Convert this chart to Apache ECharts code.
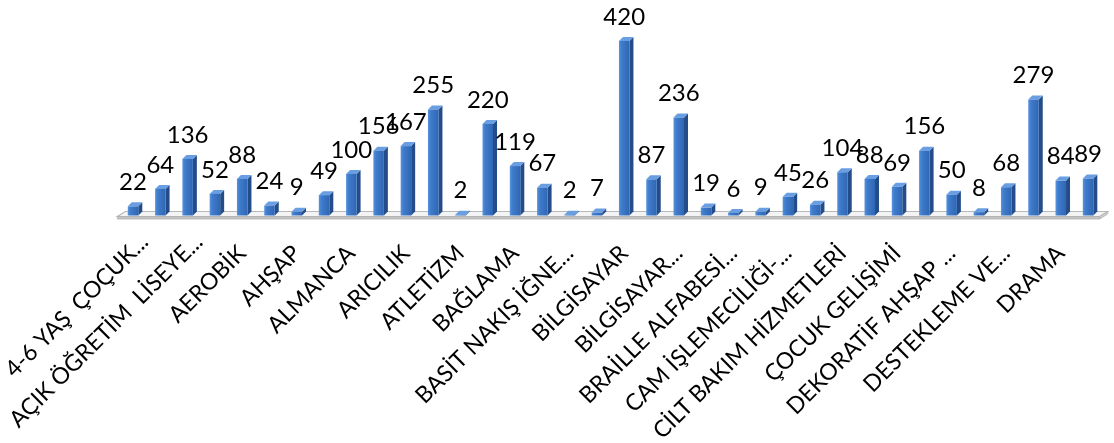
<!DOCTYPE html>
<html><head><meta charset="utf-8">
<script src="https://cdn.jsdelivr.net/npm/echarts@6/dist/echarts.min.js"></script>
<style>html,body{margin:0;padding:0;background:#fff}#c{width:1114px;height:443px}</style>
</head><body><div id="c"></div>
<script>
// Categories (only every other label is shown in the reference; unlabeled ones left blank)
const categories = [
  "4-6 YAŞ  ÇOÇUK...", "",
  "AÇIK ÖĞRETİM  LİSEYE...", "",
  "AEROBİK", "",
  "AHŞAP", "",
  "ALMANCA", "",
  "ARICILIK", "",
  "ATLETİZM", "",
  "BAĞLAMA", "",
  "BASİT NAKIŞ İĞNE...", "",
  "BİLGİSAYAR", "",
  "BİLGİSAYAR...", "",
  "BRAİLLE ALFABESİ...", "",
  "CAM İŞLEMECİLİĞİ-...", "",
  "CİLT BAKIM HİZMETLERİ", "",
  "ÇOCUK GELİŞİMİ", "",
  "DEKORATİF AHŞAP ...", "",
  "DESTEKLEME VE...", "",
  "DRAMA", ""
];
const values = [22, 64, 136, 52, 88, 24, 9, 49, 100, 156, 167, 255, 2, 220, 119, 67, 2, 7,
                420, 87, 236, 19, 6, 9, 45, 26, 104, 88, 69, 156, 50, 8, 68, 279, 84, 89];

const chart = echarts.init(document.getElementById('c'));
const barData = values.map((v, i) => [i, v]);
// the first two long labels are nudged right so they stay inside the picture, as in the reference
const axisData = categories.map((c, i) => (i < 3 && c)
  ? { value: c, textStyle: { padding: [28, -16, 0, 0] } }
  : c);

function renderBar(params, api) {
  const i = api.value(0), v = api.value(1);
  const top = api.coord([i, v]);
  const base = api.coord([i, 0]);
  const w = 10.5, d = 4;
  const x0 = top[0] - w / 2, x1 = top[0] + w / 2;
  const yt = top[1], yb = base[1];
  return {
    type: 'group',
    children: [
      { type: 'polygon', shape: { points: [[x1, yt], [x1 + d, yt - d], [x1 + d, yb - d], [x1, yb]] },
        style: { fill: '#234d8a' } },
      { type: 'polygon', shape: { points: [[x0, yt], [x0 + d, yt - d], [x1 + d, yt - d], [x1, yt]] },
        style: { fill: '#6a9ee2' } },
      { type: 'rect', shape: { x: x0, y: yt, width: w, height: Math.max(yb - yt, 0.5) },
        style: { fill: new echarts.graphic.LinearGradient(0, 0, 1, 0, [
          { offset: 0, color: '#5b93dc' }, { offset: 0.25, color: '#3f7ccc' }, { offset: 1, color: '#2f66b4' }]) } },
      { type: 'text', z2: 100, style: { text: String(v), x: top[0], y: yt - 12, align: 'center', verticalAlign: 'bottom',
        font: '24px Lato', fill: '#000' } }
    ]
  };
}

function renderFloor(params, api) {
  const cs = params.coordSys;
  const base = api.coord([0, 0]);
  const yb = base[1];
  const xl = cs.x - 2, xr = cs.x + cs.width - 2, dx = 8, dy = 5;
  return {
    type: 'group',
    children: [
      { type: 'polygon', shape: { points: [[xl, yb + 1], [xr, yb + 1], [xr + dx, yb + 1 - dy], [xl + dx, yb + 1 - dy]] },
        style: { fill: '#f4f4f4', stroke: '#b8b8b8', lineWidth: 1.2 } },
      { type: 'polygon', shape: { points: [[xl, yb + 1], [xr, yb + 1], [xr, yb + 3.5], [xl, yb + 3.5]] },
        style: { fill: '#c4c4c4', stroke: '#b0b0b0', lineWidth: 0.8 } },
      { type: 'polygon', shape: { points: [[xr, yb + 1], [xr + dx, yb + 1 - dy], [xr + dx, yb + 3.5 - dy], [xr, yb + 3.5]] },
        style: { fill: '#d0d0d0', stroke: '#b0b0b0', lineWidth: 0.8 } }
    ]
  };
}

chart.setOption({
  animation: false,
  grid: { left: 119.4, right: 12.3, top: 28.5, bottom: 227.5, containLabel: false, outerBoundsMode: 'none' },
  xAxis: {
    type: 'category', data: axisData,
    axisLine: { show: false }, axisTick: { show: false },
    axisLabel: { interval: 1, rotate: 45, margin: 34, fontFamily: 'Lato', fontSize: 23, color: '#000' }
  },
  yAxis: { type: 'value', min: 0, max: 450, show: false, splitLine: { show: false } },
  series: [
    { type: 'custom', renderItem: renderFloor, data: [[0, 0]], encode: { x: 0, y: 1 }, silent: true, z: 1 },
    { type: 'custom', renderItem: renderBar, data: barData, encode: { x: 0, y: 1 }, z: 2 }
  ]
});
</script></body></html>
